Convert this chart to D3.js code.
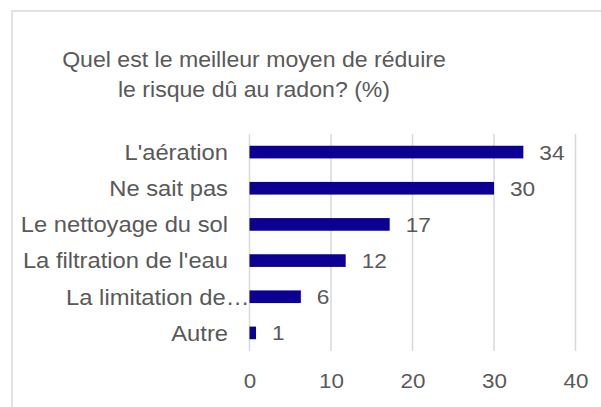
<!DOCTYPE html>
<html lang="fr">
<head>
<meta charset="UTF-8">
<title>Radon</title>
<script src="https://d3js.org/d3.v7.min.js"></script>
<style>
  body { margin: 0; background: #fff; }
  text { font-family: "Liberation Sans", Arial, sans-serif; fill: #595959; }
  .grid line { stroke: #d9d9d9; stroke-width: 1.5; }
  .axis path, .axis line { display: none; }
</style>
</head>
<body>
<svg id="chart" width="601" height="407"></svg>
<script>
// data
const titleLines = ["Quel est le meilleur moyen de réduire", "le risque dû au radon? (%)"];
const categories = ["L'aération", "Ne sait pas", "Le nettoyage du sol", "La filtration de l'eau", "La limitation de…", "Autre"];
const values = [33.6, 30.0, 17.2, 11.8, 6.3, 0.8];
const valueLabels = ["34", "30", "17", "12", "6", "1"];
const xTicks = [0, 10, 20, 30, 40];

const svg = d3.select("#chart");
const data = categories.map((c, i) => ({ cat: c, value: values[i], label: valueLabels[i] }));

// chart border (extends past the right/bottom edge in the picture)
svg.append("rect").attr("x", 12).attr("y", 11).attr("width", 620).attr("height", 420)
   .attr("fill", "none").attr("stroke", "#d9d9d9").attr("stroke-width", 1.5);

const x = d3.scaleLinear().domain([0, 40]).range([249.5, 575.5]);
const y = d3.scaleBand().domain(categories).range([134, 351]).paddingInner(0.65).paddingOuter(0.325);

// title
svg.append("g").selectAll("text").data(titleLines).enter().append("text")
   .attr("transform", (d, i) => `translate(254,${66.5 + i * 30.5}) scale(1.05,1)`)
   .attr("text-anchor", "middle").style("font-size", "22px").text(d => d);

// vertical gridlines
svg.append("g").attr("class", "grid").selectAll("line").data(xTicks).enter().append("line")
   .attr("x1", d => x(d)).attr("x2", d => x(d)).attr("y1", 134).attr("y2", 351);

// bars
svg.append("g").selectAll("rect").data(data).enter().append("rect")
   .attr("x", x(0)).attr("y", d => y(d.cat))
   .attr("width", d => x(d.value) - x(0)).attr("height", y.bandwidth())
   .attr("fill", "#0b0091");

// value labels
svg.append("g").selectAll("text").data(data).enter().append("text")
   .attr("transform", d => `translate(${x(d.value) + 16},${y(d.cat) + y.bandwidth() / 2 + 7.5}) scale(1.08,1)`)
   .style("font-size", "21px").text(d => d.label);

// category axis
const yAxis = svg.append("g").attr("class", "axis").attr("transform", `translate(${x(0)},0)`)
   .call(d3.axisLeft(y).tickSize(0).tickPadding(0));
yAxis.selectAll("text")
   .attr("x", null).attr("dy", null)
   .attr("transform", d => `translate(${d.endsWith("…") ? 0 : -21.5},7.8) scale(1.08,1)`)
   .style("font-size", "22px").attr("text-anchor", "end");

// value axis
const xAxis = svg.append("g").attr("class", "axis").attr("transform", "translate(0,388)")
   .call(d3.axisBottom(x).tickValues(xTicks).tickSize(0).tickPadding(0));
xAxis.selectAll("text").attr("y", 0).attr("dy", null)
   .attr("transform", "scale(1.12,1)").style("font-size", "20px");
</script>
</body>
</html>
